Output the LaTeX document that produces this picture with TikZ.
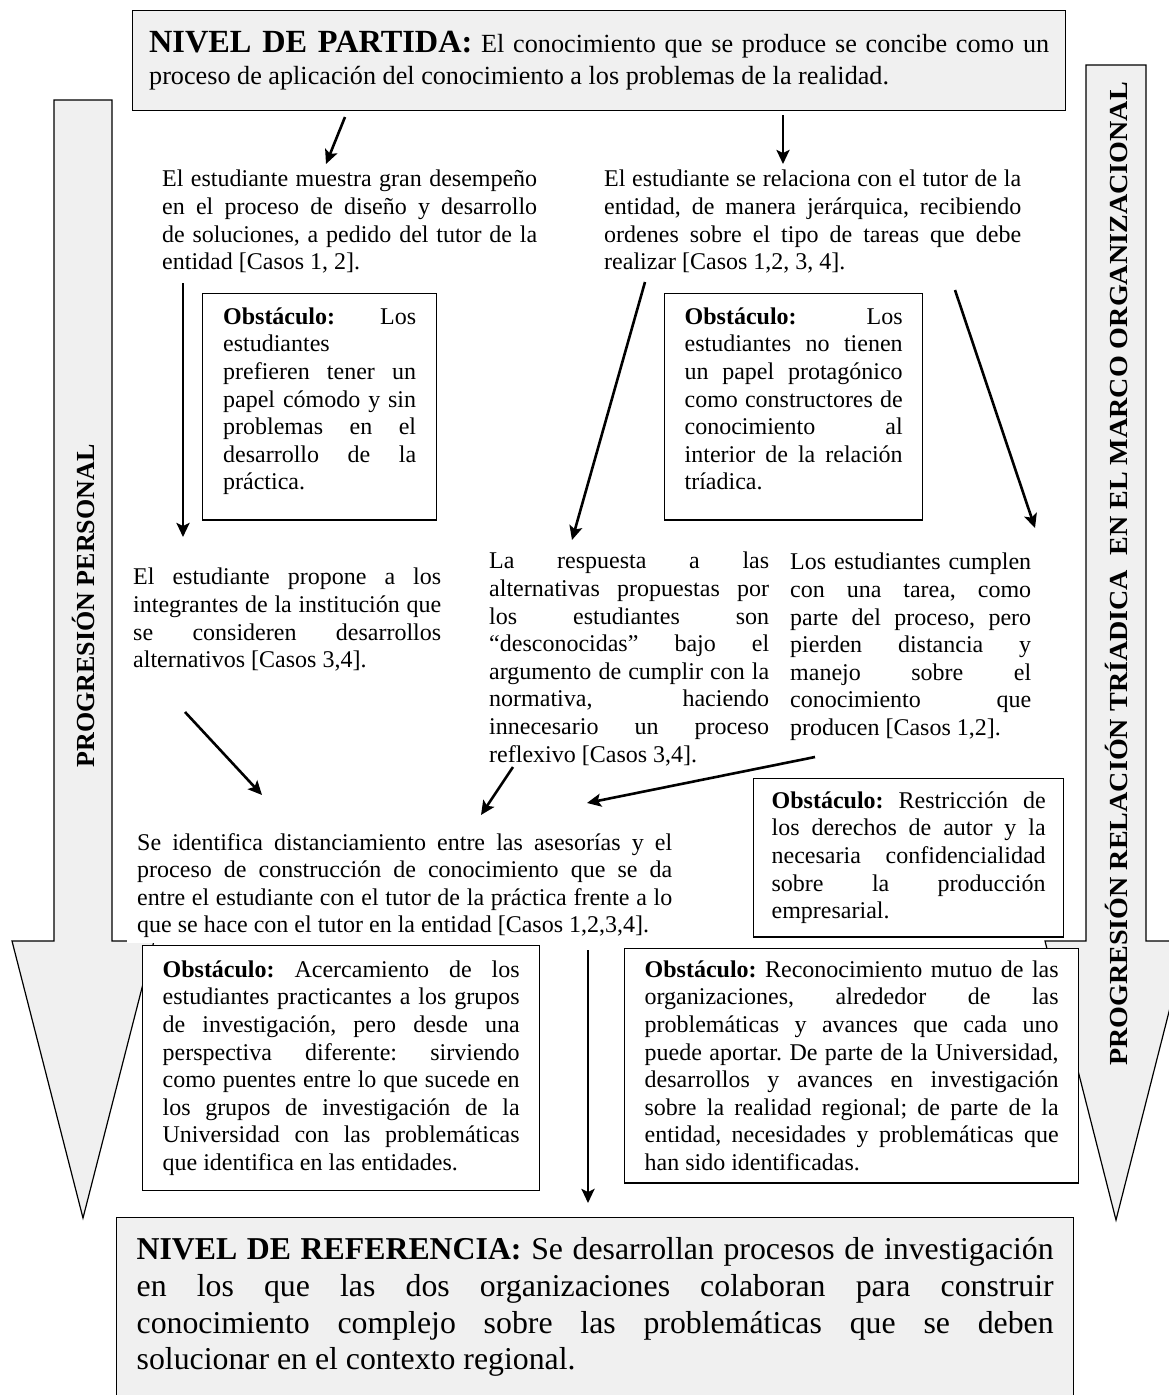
\documentclass[tikz,border=0pt]{standalone}
\usepackage{fontspec}
\usepackage{graphicx}
\setmainfont{Liberation Serif}
\usetikzlibrary{arrows.meta}
\definecolor{boxgray}{HTML}{F0F0F0}
\newcommand\NS{\spaceskip=0pt\xspaceskip=0pt\relax}
\newcommand\JL[1]{\leavevmode\hbox to \hsize{\NS #1}}
\newcommand\LL[1]{\leavevmode\hbox{\NS #1}}
\newcommand\lastpad[1]{\rule[-#1]{0pt}{0pt}}
\frenchspacing
\begin{document}
\begin{tikzpicture}[x=1pt,y=-1pt,
  sm/.style={font=\fontsize{24}{27.6}\selectfont},
  txt/.style={sm, text width=#1, align=left, inner sep=0pt, anchor=north west},
  obs/.style={sm, draw=black, line width=1.3pt, fill=white, text width=#1, align=left,
              inner xsep=20pt, inner ysep=14pt, anchor=north west},
  arr/.style={line width=2.6pt, -{Stealth[length=14pt,width=13pt,inset=3pt]}},
  bigarrow/.style={fill=boxgray, draw=black, line width=1.2pt},
  vlabel/.style={rotate=90, inner sep=0pt, font=\fontsize{26}{28}\selectfont\bfseries}]
\useasboundingbox (0,0) rectangle (1169,1395);
\clip (0,0) rectangle (1169,1395);

% big side arrows
\draw[bigarrow] (54,100) -- (112,100) -- (112,941) -- (154,941) -- (83,1218) -- (12,941) -- (54,941) -- cycle;
\draw[bigarrow] (1086,65) -- (1146,65) -- (1146,941) -- (1187,941) -- (1116,1220) -- (1045,941) -- (1086,941) -- cycle;
\node[vlabel] (lab1) at (83,606) {PROGRESIÓN PERSONAL};
\node[vlabel] (lab2) at (1116,574) {\scalebox{1.08}[1]{PROGRESIÓN RELACIÓN TRÍADICA\ \ EN EL MARCO ORGANIZACIONAL}};

% top box
\node[draw=black, line width=1.3pt, fill=boxgray, anchor=north west, text width=900pt,
      inner xsep=16.5pt, inner ysep=0pt, minimum height=100pt, align=left,
      font=\fontsize{26.2}{32}\selectfont] (partida) at (132,10)
{\JL{{\fontsize{32.3}{32}\selectfont\bfseries NIVEL DE PARTIDA:} El conocimiento que se produce se concibe como un}\\
\LL{proceso de aplicación del conocimiento a los problemas de la realidad.}};

% first row texts
\node[txt=375pt] (ta) at (162,170)
{\JL{El estudiante muestra gran desempeño}\\
\JL{en el proceso de diseño y desarrollo}\\
\JL{de soluciones, a pedido del tutor de la}\\
\LL{entidad [Casos 1, 2].}};
\node[txt=417pt] (tb) at (604,170)
{\JL{El estudiante se relaciona con el tutor de la}\\
\JL{entidad, de manera jerárquica, recibiendo}\\
\JL{ordenes sobre el tipo de tareas que debe}\\
\LL{realizar [Casos 1,2, 3, 4].}};

\coordinate (a1s) at (345,117); \coordinate (a1e) at (326,164);
\coordinate (a2s) at (783,115); \coordinate (a2e) at (783,164);
\draw[arr] (a1s) -- (a1e);
\draw[arr] (a2s) -- (a2e);

% obstacles row 1
\node[obs=193pt, inner xsep=20.5pt] (o1) at (202,293)
{\JL{\textbf{Obstáculo:} Los}\\
\LL{estudiantes}\\
\JL{prefieren tener un}\\
\JL{papel cómodo y sin}\\
\JL{problemas en el}\\
\JL{desarrollo de la}\\
\LL{práctica.}\lastpad{16pt}};
\node[obs=218pt] (o2) at (664,293)
{\JL{\textbf{Obstáculo:} Los}\\
\JL{estudiantes no tienen}\\
\JL{un papel protagónico}\\
\JL{como constructores de}\\
\JL{conocimiento al}\\
\JL{interior de la relación}\\
\LL{tríadica.}\lastpad{16pt}};

\coordinate (b1s) at (183,283); \coordinate (b1e) at (183,537);
\coordinate (b2s) at (645,282); \coordinate (b2e) at (572,540);
\coordinate (b3s) at (955,290); \coordinate (b3e) at (1035,528);
\draw[arr] (b1s) -- (b1e);
\draw[arr] (b2s) -- (b2e);
\draw[arr] (b3s) -- (b3e);

% second row texts
\node[txt=308pt] (tc) at (133,568)
{\JL{El estudiante propone a los}\\
\JL{integrantes de la institución que}\\
\JL{se consideren desarrollos}\\
\LL{alternativos [Casos 3,4].}};
\node[txt=280pt] (td) at (489,552)
{\JL{La respuesta a las}\\
\JL{alternativas propuestas por}\\
\JL{los estudiantes son}\\
\JL{“desconocidas” bajo el}\\
\JL{argumento de cumplir con la}\\
\JL{normativa, haciendo}\\
\JL{innecesario un proceso}\\
\LL{reflexivo [Casos 3,4].}};
\node[txt=241pt] (te) at (790,553)
{\JL{Los estudiantes cumplen}\\
\JL{con una tarea, como}\\
\JL{parte del proceso, pero}\\
\JL{pierden distancia y}\\
\JL{manejo sobre el}\\
\JL{conocimiento que}\\
\LL{producen [Casos 1,2].}};

\coordinate (c1s) at (185,712); \coordinate (c1e) at (262,795);
\coordinate (c2s) at (513,767); \coordinate (c2e) at (481,815);
\coordinate (c3s) at (815,757); \coordinate (c3e) at (587,803);
\draw[arr] (c1s) -- (c1e);
\draw[arr] (c2s) -- (c2e);
\draw[arr] (c3s) -- (c3e);

% obstacle 3
\node[obs=274pt, inner xsep=18pt, inner ysep=13pt] (o3) at (753,778)
{\JL{\textbf{Obstáculo:} Restricción de}\\
\JL{los derechos de autor y la}\\
\JL{necesaria confidencialidad}\\
\JL{sobre la producción}\\
\LL{empresarial.}};

% central statement
\node[sm, fill=white, text width=535pt, align=left, inner xsep=10pt, inner ysep=5pt, anchor=north west] (si) at (127,828)
{\JL{Se identifica distanciamiento entre las asesorías y el}\\
\JL{proceso de construcción de conocimiento que se da}\\
\JL{entre el estudiante con el tutor de la práctica frente a lo}\\
\LL{que se hace con el tutor en la entidad [Casos 1,2,3,4].}};

% bottom obstacles
\node[obs=357pt, inner ysep=15pt] (o5) at (142,945)
{\JL{\textbf{Obstáculo:} Acercamiento de los}\\
\JL{estudiantes practicantes a los grupos}\\
\JL{de investigación, pero desde una}\\
\JL{perspectiva diferente: sirviendo}\\
\JL{como puentes entre lo que sucede en}\\
\JL{los grupos de investigación de la}\\
\JL{Universidad con las problemáticas}\\
\LL{que identifica en las entidades.}};
\node[obs=414pt, inner ysep=12pt] (o4) at (624,948)
{\JL{\textbf{Obstáculo:} Reconocimiento mutuo de las}\\
\JL{organizaciones, alrededor de las}\\
\JL{problemáticas y avances que cada uno}\\
\JL{puede aportar. De parte de la Universidad,}\\
\JL{desarrollos y avances en investigación}\\
\JL{sobre la realidad regional; de parte de la}\\
\JL{entidad, necesidades y problemáticas que}\\
\LL{han sido identificadas.}};

\coordinate (d1s) at (588,950); \coordinate (d1e) at (588,1203);
\draw[arr] (d1s) -- (d1e);

% bottom box
\node[draw=black, line width=1.3pt, fill=boxgray, anchor=north west, text width=917pt,
      inner xsep=20pt, inner ysep=20pt, align=left,
      font=\fontsize{31.8}{36.7}\selectfont] (ref) at (116,1217)
{\JL{\textbf{NIVEL DE REFERENCIA:} Se desarrollan procesos de investigación}\\
\JL{en los que las dos organizaciones colaboran para construir}\\
\JL{conocimiento complejo sobre las problemáticas que se deben}\\
\LL{solucionar en el contexto regional.}};
\end{tikzpicture}
\end{document}
